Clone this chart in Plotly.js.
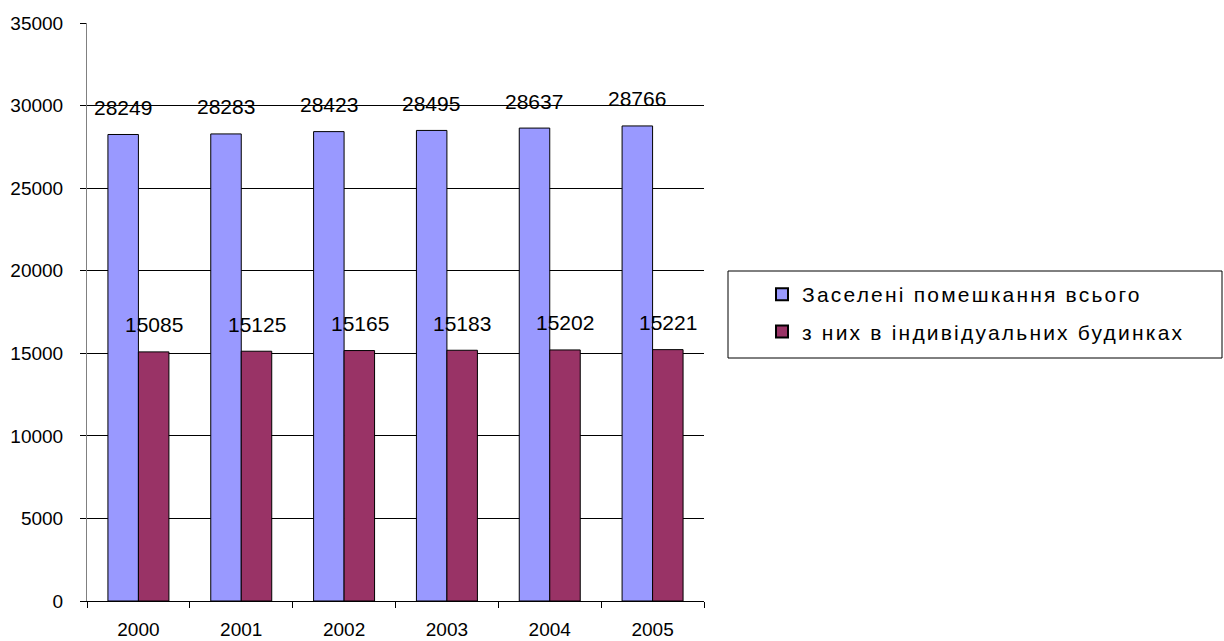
<!DOCTYPE html>
<html>
<head>
<meta charset="utf-8">
<script src="https://cdn.plot.ly/plotly-3.0.1.min.js"></script>
<style>
html,body{margin:0;padding:0;background:#fff;}
#chart{width:1224px;height:641px;}
.legendtext{letter-spacing:2.2px;}
</style>
</head>
<body>
<div id="chart"></div>
<script>
const years = ['2000', '2001', '2002', '2003', '2004', '2005'];
const seriesNames = ['Заселені помешкання всього', 'з них в індивідуальних будинках'];
const totalDwellings = [28249, 28283, 28423, 28495, 28637, 28766];
const individualHouses = [15085, 15125, 15165, 15183, 15202, 15221];
const seriesColors = ['#9999FF', '#993366'];

const FONT = 'Liberation Sans, Arial, sans-serif';

const traces = [
  {type: 'bar', name: seriesNames[0], x: years, y: totalDwellings, legendgroup: 'a',
   marker: {color: seriesColors[0], line: {color: '#000', width: 1}}, hoverinfo: 'none'},
  {type: 'bar', name: seriesNames[1], x: years, y: individualHouses, legendgroup: 'b',
   marker: {color: seriesColors[1], line: {color: '#000', width: 1}}, hoverinfo: 'none'}
];

const annotations = [];
[totalDwellings, individualHouses].forEach((vals, si) => {
  vals.forEach((v, i) => {
    annotations.push({
      x: i, y: v, xref: 'x', yref: 'y',
      text: String(v), showarrow: false,
      xshift: si === 0 ? -15.5 : 15.5, yshift: 27,
      xanchor: 'center', yanchor: 'middle',
      font: {family: FONT, size: 21, color: '#000'}
    });
  });
});

const L = 87, R = 704, T = 23, B = 601;
const pw = R - L, ph = B - T;
const px = v => (v - L) / pw;
const py = v => (B - v) / ph;

const layout = {
  width: 1224, height: 641,
  margin: {l: L, r: 1224 - R, t: T, b: 641 - B, pad: 0},
  paper_bgcolor: '#fff', plot_bgcolor: '#fff',
  font: {family: FONT, size: 19, color: '#000'},
  barmode: 'group', bargap: 0.407, bargroupgap: 0,
  showlegend: true,
  legend: {
    x: px(762), y: py(274), xanchor: 'left', yanchor: 'top',
    bgcolor: 'rgba(0,0,0,0)', borderwidth: 0,
    font: {family: FONT, size: 21, color: '#000'},
    traceorder: 'grouped', tracegroupgap: 7, itemsizing: 'constant'
  },
  xaxis: {
    type: 'category', range: [-0.5, 5.5], showgrid: false, zeroline: false,
    showline: true, linecolor: '#000', linewidth: 1,
    ticks: 'outside', tickson: 'boundaries', ticklen: 6, tickcolor: '#000', tickwidth: 1,
    ticklabelstandoff: 11, tickfont: {family: FONT, size: 19}
  },
  yaxis: {
    range: [0, 35000], dtick: 5000, tick0: 0, tickformat: 'd',
    showgrid: true, gridcolor: '#000', gridwidth: 1, zeroline: false,
    showline: true, linecolor: '#808080', linewidth: 1,
    ticks: 'outside', ticklen: 6, tickcolor: '#000', tickwidth: 1,
    ticklabelstandoff: 13, tickfont: {family: FONT, size: 19}
  },
  annotations: annotations,
  shapes: [{
    type: 'rect', xref: 'paper', yref: 'paper',
    x0: px(728), x1: px(1222), y0: py(358), y1: py(271),
    line: {color: '#000', width: 1}, fillcolor: 'rgba(0,0,0,0)'
  }]
};

Plotly.newPlot('chart', traces, layout, {displayModeBar: false, staticPlot: true});
</script>
</body>
</html>
